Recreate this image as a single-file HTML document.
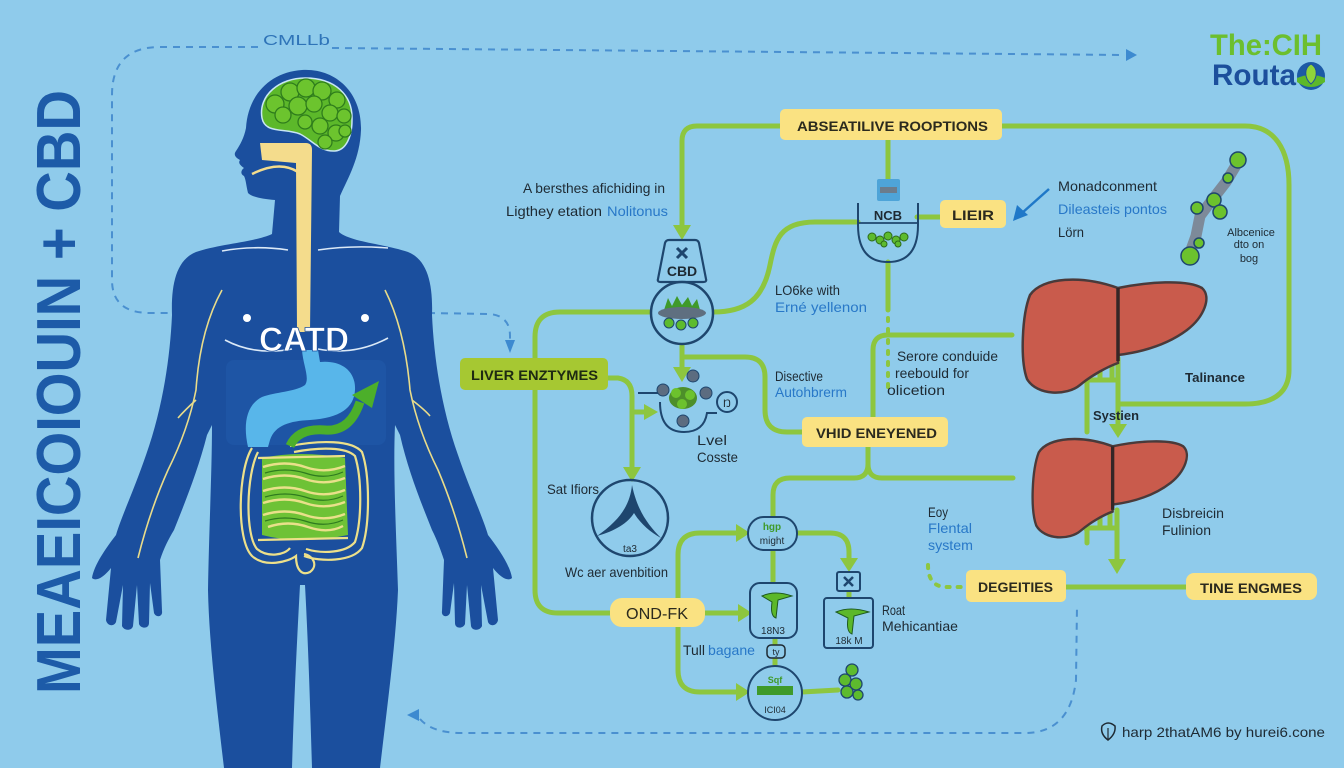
<!DOCTYPE html>
<html><head><meta charset="utf-8">
<style>
html,body{margin:0;padding:0;background:#8fcbeb;}
svg{display:block;}
text{font-family:"Liberation Sans",Arial,sans-serif;}
</style></head>
<body>
<svg width="1344" height="768" viewBox="0 0 1344 768" xmlns="http://www.w3.org/2000/svg">
<rect width="1344" height="768" fill="#8fcbeb"/>

<!-- Title -->
<text transform="translate(80,694) rotate(-90)" font-size="62" font-weight="bold" fill="#1d5ba8" textLength="604" lengthAdjust="spacingAndGlyphs">MEAEICOIOUIN + CBD</text>

<!-- dashed blue connectors -->
<g fill="none" stroke="#4a90d0" stroke-width="2" stroke-dasharray="7 6">
  <path d="M258 47 L160 47 Q112 47 112 95 L112 280 Q112 313 150 313 L168 313"/>
  <path d="M332 48 L1125 55"/>
  <path d="M428 313 L490 314 Q510 316 510 336 L510 342"/>
  <path d="M420 719 Q432 733 462 733 L1025 733 Q1070 733 1076 680 L1077 606"/>
</g>
<polygon points="1126,49 1126,61 1137,55" fill="#3d8ad0"/>
<polygon points="505,340 515,340 510,353" fill="#3d8ad0"/>
<polygon points="407,715 419,709 419,721" fill="#3d8ad0"/>
<text x="263" y="45" font-size="15" font-family="Liberation Serif, serif" fill="#2f74b8" textLength="67" lengthAdjust="spacingAndGlyphs">CMLLb</text>

<!-- Logo -->
<text x="1210" y="55" font-size="30" font-weight="bold" fill="#6cbf2e" textLength="112" lengthAdjust="spacingAndGlyphs">The:CIH</text>
<text x="1212" y="85" font-size="30" font-weight="bold" fill="#1c4f9c" textLength="84" lengthAdjust="spacingAndGlyphs">Routa</text>
<circle cx="1311" cy="76" r="14" fill="#1d5aa6"/>
<path d="M1297 78 Q1311 72 1325 78 L1325 82 Q1311 92 1297 82 Z" fill="#5cb82a"/>
<path d="M1311 64 C1318 68 1318 78 1311 84 C1304 78 1304 68 1311 64 Z" fill="#8fd43a" stroke="#1c4f9c" stroke-width="1"/>

<!-- BODY -->
<path fill="#1b4f9e" d="M302 70 C335 68 362 92 361 130 C360 158 348 178 340 196 L339 232 C350 242 385 244 408 252 C428 260 433 285 432 315 C434 360 442 410 458 455 C470 490 482 515 488 535 C498 548 510 565 512 578 C508 582 500 577 493 568 L498 620 C497 626 490 627 488 622 L481 585 L482 626 C480 631 472 631 471 626 L467 585 L465 624 C463 629 455 629 455 623 L454 583 L450 613 C448 618 441 617 442 611 L444 560 C440 548 437 540 432 530 C420 500 408 470 400 435 L395 425 C393 470 396 530 398 590 C396 640 388 700 380 768 L312 768 C310 700 308 640 305 585 L300 585 C297 640 294 700 292 768 L224 768 C216 700 209 640 208 590 C209 530 212 470 212 425 L207 435 C198 470 186 500 174 530 C168 540 164 548 160 560 L162 611 C163 617 156 618 154 613 L150 583 L149 623 C149 629 141 629 139 624 L137 585 L133 626 C132 631 124 631 122 626 L123 585 L116 622 C114 627 107 626 106 620 L111 568 C104 577 96 582 92 578 C94 565 106 548 116 535 C122 515 134 490 146 455 C162 410 170 360 172 315 C171 285 176 260 196 252 C219 244 255 242 272 234 L275 200 C262 199 252 197 248 193 C246 185 246 180 244 176 C240 174 241 170 244 168 C240 165 238 163 240 160 C236 158 233 155 236 151 C240 145 244 138 246 128 C248 95 270 72 302 70 Z"/>
<!-- torso lighter area -->
<rect x="226" y="360" width="160" height="85" rx="8" fill="#2461b2" opacity="0.35"/>

<!-- brain -->
<path d="M262 118 C258 95 280 78 305 78 C335 78 353 95 352 120 C352 137 346 150 335 151 C320 152 312 140 300 134 C285 128 265 134 262 118 Z" fill="#5cb82a" stroke="#c8e6f5" stroke-width="1.5"/>
<g fill="#6cc42e" stroke="#2f7d1c" stroke-width="1.3">
  <circle cx="275" cy="104" r="9"/><circle cx="290" cy="92" r="9"/><circle cx="306" cy="88" r="9"/>
  <circle cx="322" cy="91" r="9"/><circle cx="337" cy="100" r="8"/><circle cx="283" cy="115" r="8"/>
  <circle cx="298" cy="106" r="9"/><circle cx="314" cy="104" r="8"/><circle cx="330" cy="113" r="8"/>
  <circle cx="344" cy="116" r="7"/><circle cx="305" cy="122" r="7"/><circle cx="320" cy="126" r="8"/>
  <circle cx="336" cy="133" r="8"/><circle cx="325" cy="142" r="7"/><circle cx="345" cy="131" r="6"/>
</g>

<!-- esophagus -->
<path d="M260 143 L306 143 Q312 143 312 150 L310 332 L297 332 L296 163 L262 160 Z" fill="#f4dc8c"/>
<path d="M252 174 Q280 160 298 172" fill="none" stroke="#f4dc8c" stroke-width="2.5"/>

<!-- chest lines -->
<g fill="none" stroke="#dbe9f7" stroke-width="1.6">
  <path d="M222 251 Q255 245 288 250"/>
  <path d="M318 250 Q352 245 388 248"/>
  <path d="M225 340 Q255 356 292 349"/>
  <path d="M318 349 Q355 356 388 338"/>
</g>
<!-- arm nerves -->
<g fill="none" stroke="#e9dc8a" stroke-width="1.6">
  <path d="M222 290 Q200 330 196 390 Q188 430 168 470 Q150 510 138 558"/>
  <path d="M196 400 Q185 410 178 418"/>
  <path d="M385 290 Q405 330 410 390 Q418 430 438 470 Q455 510 467 558"/>
  <path d="M412 400 Q425 410 430 416"/>
</g>
<circle cx="247" cy="318" r="4" fill="#ffffff"/>
<circle cx="365" cy="318" r="4" fill="#ffffff"/>

<!-- stomach -->
<path d="M302 350 L318 350 L320 362 C340 360 356 370 355 390 C354 408 340 418 310 420 C290 421 275 425 270 440 L268 447 L248 447 C243 425 246 405 262 397 C275 392 295 392 305 385 C310 378 303 365 302 350 Z" fill="#58b6ea"/>
<text x="259" y="351" font-size="34" font-weight="bold" fill="#ffffff" stroke="#1b4f9e" stroke-width="0.8" textLength="90" lengthAdjust="spacingAndGlyphs">CATD</text>

<!-- intestines -->
<path d="M262 458 Q300 450 345 458 L348 535 Q300 545 262 535 Z" fill="#6ec236"/>
<g fill="none" stroke="#e9e08a" stroke-width="2.4">
  <path d="M263 467 Q285 460 305 467 Q325 474 345 466"/>
  <path d="M263 479 Q285 472 305 479 Q325 486 345 478"/>
  <path d="M263 491 Q285 484 305 491 Q325 498 345 490"/>
  <path d="M263 503 Q285 496 305 503 Q325 510 345 502"/>
  <path d="M263 515 Q285 508 305 515 Q325 522 345 514"/>
  <path d="M268 527 Q288 520 308 527 Q328 534 343 526"/>
</g>
<g fill="none" stroke="#2e7a1f" stroke-width="1.2">
  <path d="M265 473 Q285 467 305 473 Q325 480 343 472"/>
  <path d="M265 497 Q285 491 305 497 Q325 504 343 496"/>
  <path d="M265 521 Q285 515 305 521 Q325 528 343 520"/>
</g>
<g fill="none" stroke="#ede08a" stroke-width="2.2">
  <path d="M252 448 C238 470 236 540 252 556 C265 568 288 562 296 556 C296 570 302 576 310 572 C318 566 314 556 304 554"/>
  <path d="M258 452 C246 475 245 535 257 549 C268 558 285 555 290 548"/>
  <path d="M290 446 C320 440 352 440 362 452 C370 475 370 525 362 548 C352 562 320 562 304 556"/>
  <path d="M294 452 C320 447 346 447 355 456 C362 478 362 520 355 542 C346 553 322 554 306 549"/>
  <path d="M258 458 L345 456 M258 540 L348 538"/>
</g>
<!-- green arrow -->
<path d="M290 446 Q298 428 325 430 Q350 432 360 402" fill="none" stroke="#4caf2a" stroke-width="9"/>
<polygon points="352,395 379,381 372,408" fill="#4caf2a"/>

<!-- ===== FLOW CHART ===== -->
<g fill="none" stroke="#8dc63f" stroke-width="5" stroke-linecap="round" stroke-linejoin="round">
  <path d="M780 126 L697 126 Q682 126 682 141 L682 226"/>
  <path d="M1002 126 L1245 126 C1275 126 1289 150 1289 185 L1289 370 C1289 395 1270 404 1245 404 L1120 404"/>
  <path d="M888 140 L888 180"/>
  <path d="M917 217 L940 217"/>
  <path d="M858 222 L815 222 C780 222 775 240 770 265 C763 300 745 312 713 312"/>
  <path d="M650 312 L560 312 Q535 312 535 337 L535 590 Q535 613 558 613 L610 613"/>
  <path d="M608 378 L618 378 Q632 380 632 396 L632 468"/>
  <path d="M632 412 L645 412"/>
  <path d="M682 345 L682 368"/>
  <path d="M682 357 L745 357 Q765 357 765 377 L765 410 Q765 432 787 432 L802 432"/>
  <path d="M868 447 L868 464 Q868 478 854 478 L790 478 Q773 478 773 495 L773 516"/>
  <path d="M868 464 Q868 478 882 478 L1013 478"/>
  <path d="M873 418 L873 350 Q873 335 888 335 L1012 335"/>
  <path d="M888 262 L888 310"/>
  <path d="M678 598 L678 555 Q678 533 700 533 L737 533"/>
  <path d="M678 627 L678 670 Q678 692 700 692 L737 692"/>
  <path d="M705 613 L739 613"/>
  <path d="M797 533 L830 533 Q849 533 849 552 L849 559"/>
  <path d="M773 550 L773 583"/>
  <path d="M775 638 L775 666"/>
  <path d="M849 590 L849 598"/>
  <path d="M802 692 L838 690"/>
  <path d="M1066 587 L1186 587"/>
  <path d="M1075 362 Q1082 370 1087 380 L1087 432"/>
  <path d="M1100 358 L1100 380 M1112 358 L1112 380 M1087 380 L1118 380"/>
  <path d="M1118 358 L1118 425"/>
  <path d="M1070 515 Q1080 522 1087 530 L1087 543"/>
  <path d="M1100 510 L1100 528 M1110 510 L1110 528 M1087 528 L1117 528"/>
  <path d="M1117 510 L1117 560"/>
</g>
<g fill="none" stroke="#8dc63f" stroke-width="4" stroke-dasharray="3 8" stroke-linecap="round">
  <path d="M888 318 L888 395"/>
  <path d="M928 565 Q928 586 945 587 L962 587"/>
</g>
<!-- arrowheads -->
<g fill="#8dc63f">
  <polygon points="673,225 691,225 682,240"/>
  <polygon points="673,367 691,367 682,382"/>
  <polygon points="644,404 644,420 658,412"/>
  <polygon points="623,467 641,467 632,482"/>
  <polygon points="736,524 736,542 750,533"/>
  <polygon points="738,604 738,622 752,613"/>
  <polygon points="736,683 736,701 750,692"/>
  <polygon points="840,558 858,558 849,572"/>
  <polygon points="1109,424 1127,424 1118,438"/>
  <polygon points="1108,559 1126,559 1117,574"/>
</g>

<!-- Yellow / green boxes -->
<rect x="780" y="109" width="222" height="31" rx="5" fill="#fae282"/>
<text x="797" y="131" font-size="14" font-weight="bold" fill="#2b2a1e" textLength="191" lengthAdjust="spacingAndGlyphs">ABSEATILIVE ROOPTIONS</text>
<rect x="940" y="200" width="66" height="28" rx="5" fill="#fae282"/>
<text x="952" y="220" font-size="14" font-weight="bold" fill="#2b2a1e" textLength="42" lengthAdjust="spacingAndGlyphs">LIEIR</text>
<rect x="460" y="358" width="148" height="32" rx="5" fill="#a6c832"/>
<text x="471" y="380" font-size="14" font-weight="bold" fill="#1e2a12" textLength="127" lengthAdjust="spacingAndGlyphs">LIVER ENZTYMES</text>
<rect x="802" y="417" width="146" height="30" rx="5" fill="#fae282"/>
<text x="816" y="438" font-size="14" font-weight="bold" fill="#2b2a1e" textLength="121" lengthAdjust="spacingAndGlyphs">VHID ENEYENED</text>
<rect x="966" y="570" width="100" height="32" rx="5" fill="#fae282"/>
<text x="978" y="592" font-size="14" font-weight="bold" fill="#2b2a1e" textLength="75" lengthAdjust="spacingAndGlyphs">DEGEITIES</text>
<rect x="1186" y="573" width="131" height="27" rx="8" fill="#fae282"/>
<text x="1200" y="593" font-size="14" font-weight="bold" fill="#2b2a1e" textLength="102" lengthAdjust="spacingAndGlyphs">TINE ENGMES</text>
<rect x="610" y="598" width="95" height="29" rx="12" fill="#fae282"/>
<text x="626" y="619" font-size="16" fill="#2b2a1e" textLength="62" lengthAdjust="spacingAndGlyphs">OND-FK</text>

<!-- Icons -->
<!-- NCB -->
<rect x="877" y="179" width="23" height="22" rx="2" fill="#4ea4d8"/>
<rect x="880" y="187" width="17" height="6" fill="#6b7c8c"/>
<path d="M858 203 L858 225 Q858 262 888 262 Q918 262 918 225 L918 203" fill="none" stroke="#1e466e" stroke-width="2"/>
<line x1="858" y1="223" x2="918" y2="223" stroke="#1e466e" stroke-width="1.8"/>
<text x="888" y="220" font-size="13" font-weight="bold" fill="#1e2a33" text-anchor="middle">NCB</text>
<g fill="#5dbb2e" stroke="#2d6a1a" stroke-width="1">
  <circle cx="872" cy="237" r="4"/><circle cx="880" cy="240" r="4"/><circle cx="888" cy="236" r="4"/>
  <circle cx="896" cy="240" r="4"/><circle cx="904" cy="237" r="4"/><circle cx="884" cy="244" r="3"/><circle cx="898" cy="244" r="3"/>
</g>

<!-- CBD cup -->
<path d="M669 240 L695 240 Q698 240 699 243 L706 279 Q707 282 703 282 L661 282 Q657 282 658 279 L665 243 Q666 240 669 240 Z" fill="#8fcbeb" stroke="#1e466e" stroke-width="2.2"/>
<path d="M677 248 L687 258 M687 248 L677 258" stroke="#1e466e" stroke-width="3"/>
<text x="682" y="276" font-size="14" font-weight="bold" fill="#1e2a33" text-anchor="middle">CBD</text>
<circle cx="682" cy="313" r="31" fill="#8fcbeb" stroke="#1e466e" stroke-width="2.5"/>
<path d="M664 310 L668 298 L672 306 L677 296 L682 305 L688 297 L692 306 L697 299 L700 310 Z" fill="#3f9a2a"/>
<ellipse cx="682" cy="313" rx="24" ry="6" fill="#5f6f80"/>
<g fill="#5dbb2e" stroke="#1e466e" stroke-width="1">
  <circle cx="669" cy="323" r="5"/><circle cx="681" cy="325" r="5"/><circle cx="693" cy="323" r="5"/>
</g>

<!-- small bowl molecule -->
<line x1="638" y1="393" x2="660" y2="393" stroke="#1e466e" stroke-width="2"/>
<path d="M660 402 Q660 432 684 432 Q704 432 707 413 L717 413" fill="none" stroke="#1e466e" stroke-width="2"/>
<circle cx="727" cy="402" r="10" fill="none" stroke="#1e466e" stroke-width="2"/>
<text x="727" y="407" font-size="11" fill="#1e2a33" text-anchor="middle">Ŋ</text>
<g fill="#4d8f2a"><ellipse cx="683" cy="398" rx="14" ry="11"/></g>
<g fill="#6cc22d"><circle cx="676" cy="393" r="5"/><circle cx="690" cy="395" r="5"/><circle cx="682" cy="404" r="5"/></g>
<g fill="#5c6c80" stroke="#1e466e" stroke-width="1">
  <circle cx="663" cy="390" r="6"/><circle cx="693" cy="376" r="6"/><circle cx="706" cy="393" r="6"/><circle cx="683" cy="421" r="6"/>
</g>

<!-- Sat circle -->
<circle cx="630" cy="518" r="38" fill="none" stroke="#1e466e" stroke-width="2.5"/>
<path d="M632 485 C630 505 620 520 597 536 C615 531 628 523 634 513 C640 523 650 532 661 538 C648 525 637 510 632 485 Z" fill="#1e466e"/>
<text x="630" y="552" font-size="10" fill="#1e2a33" text-anchor="middle">ta3</text>

<!-- pill -->
<rect x="748" y="517" width="49" height="33" rx="16" fill="#8fcbeb" stroke="#1e466e" stroke-width="2"/>
<text x="772" y="530" font-size="10" fill="#3f9a2a" text-anchor="middle" font-weight="bold">hgp</text>
<text x="772" y="544" font-size="10" fill="#1e2a33" text-anchor="middle">might</text>
<!-- tall box -->
<rect x="750" y="583" width="47" height="55" rx="10" fill="#8fcbeb" stroke="#1e466e" stroke-width="2"/>
<path d="M762 596 Q775 590 792 596 L778 600 L776 618 Q770 616 772 602 Z" fill="#5cb82a" stroke="#1e5a20" stroke-width="1"/>
<text x="773" y="634" font-size="10" fill="#1e2a33" text-anchor="middle">18N3</text>
<rect x="767" y="645" width="18" height="13" rx="4" fill="#8fcbeb" stroke="#1e2a33" stroke-width="1.5"/>
<text x="776" y="655" font-size="9" fill="#1e2a33" text-anchor="middle">ty</text>
<!-- X box & big box -->
<rect x="837" y="572" width="23" height="19" rx="2" fill="#8fcbeb" stroke="#1e466e" stroke-width="2"/>
<path d="M844 577 L853 586 M853 577 L844 586" stroke="#1e466e" stroke-width="2.5"/>
<rect x="824" y="598" width="49" height="50" rx="3" fill="#8fcbeb" stroke="#1e466e" stroke-width="2"/>
<path d="M836 612 Q850 606 869 612 L854 616 L852 634 Q846 632 848 618 Z" fill="#5cb82a" stroke="#1e5a20" stroke-width="1"/>
<text x="849" y="644" font-size="10" fill="#1e2a33" text-anchor="middle">18k M</text>
<!-- bottom circle -->
<circle cx="775" cy="693" r="27" fill="#8fcbeb" stroke="#1e466e" stroke-width="2"/>
<rect x="757" y="686" width="36" height="9" fill="#3f9a2a"/>
<text x="775" y="683" font-size="9" fill="#3f9a2a" text-anchor="middle" font-weight="bold">Sqf</text>
<text x="775" y="713" font-size="9" fill="#1e2a33" text-anchor="middle">ICI04</text>
<!-- cluster -->
<g fill="#5dbb2e" stroke="#1e466e" stroke-width="1.3">
  <circle cx="852" cy="670" r="6"/><circle cx="845" cy="680" r="6"/><circle cx="856" cy="684" r="6"/>
  <circle cx="847" cy="692" r="6"/><circle cx="858" cy="695" r="5"/>
</g>

<!-- molecule chain -->
<path d="M1238 162 L1226 182 L1212 200 L1200 216 L1196 236 L1188 258" fill="none" stroke="#7d8a99" stroke-width="11" stroke-linecap="round"/>
<g fill="#6cc22d" stroke="#1e466e" stroke-width="1.5">
  <circle cx="1238" cy="160" r="8"/><circle cx="1228" cy="178" r="5"/><circle cx="1214" cy="200" r="7"/>
  <circle cx="1197" cy="208" r="6"/><circle cx="1220" cy="212" r="7"/><circle cx="1190" cy="256" r="9"/>
  <circle cx="1199" cy="243" r="5"/>
</g>
<text x="1251" y="236" font-size="11" fill="#1e2a33" text-anchor="middle">Albcenice</text>
<text x="1249" y="248" font-size="11" fill="#1e2a33" text-anchor="middle">dto on</text>
<text x="1249" y="262" font-size="11" fill="#1e2a33" text-anchor="middle">bog</text>

<!-- blue arrow -->
<line x1="1049" y1="189" x2="1022" y2="213" stroke="#1f78c8" stroke-width="2.5"/>
<polygon points="1013,221 1017,205 1028,215" fill="#1f78c8"/>

<!-- livers -->
<g transform="translate(1022,275)">
  <path d="M96 13 C125 7 165 4 180 13 C190 22 182 42 165 55 C145 70 120 77 96 80 L96 88 C85 92 70 100 58 110 C45 121 15 121 5 104 C-2 85 0 40 8 20 C20 2 60 0 96 13 Z" fill="#c95b4c" stroke="#4a3a3a" stroke-width="2.5"/>
  <line x1="96" y1="13" x2="96" y2="86" stroke="#352626" stroke-width="3.5"/>
</g>
<g transform="translate(1032,435) scale(0.84,0.87)">
  <path d="M96 13 C125 7 165 4 180 13 C190 22 182 42 165 55 C145 70 120 77 96 80 L96 88 C85 92 70 100 58 110 C45 121 15 121 5 104 C-2 85 0 40 8 20 C20 2 60 0 96 13 Z" fill="#c95b4c" stroke="#4a3a3a" stroke-width="2.8"/>
  <line x1="96" y1="13" x2="96" y2="86" stroke="#352626" stroke-width="4"/>
</g>

<!-- Free text -->
<g font-size="14" fill="#1e2a33">
  <text x="523" y="193" textLength="142" lengthAdjust="spacingAndGlyphs">A bersthes afichiding in</text>
  <text x="506" y="216" textLength="96" lengthAdjust="spacingAndGlyphs">Ligthey etation</text>
  <text x="607" y="216" fill="#2878c8" textLength="61" lengthAdjust="spacingAndGlyphs">Nolitonus</text>
  <text x="1058" y="191" textLength="99" lengthAdjust="spacingAndGlyphs">Monadconment</text>
  <text x="1058" y="214" fill="#2878c8" textLength="109" lengthAdjust="spacingAndGlyphs">Dileasteis pontos</text>
  <text x="1058" y="237" textLength="26" lengthAdjust="spacingAndGlyphs">Lörn</text>
  <text x="775" y="295" textLength="65" lengthAdjust="spacingAndGlyphs">LO6ke with</text>
  <text x="775" y="312" fill="#2878c8" textLength="92" lengthAdjust="spacingAndGlyphs">Erné yellenon</text>
  <text x="775" y="381" textLength="48" lengthAdjust="spacingAndGlyphs">Disective</text>
  <text x="775" y="397" fill="#2878c8" textLength="72" lengthAdjust="spacingAndGlyphs">Autohbrerm</text>
  <text x="897" y="361" textLength="101" lengthAdjust="spacingAndGlyphs">Serore conduide</text>
  <text x="895" y="378" textLength="74" lengthAdjust="spacingAndGlyphs">reebould for</text>
  <text x="887" y="395" textLength="58" lengthAdjust="spacingAndGlyphs">olicetion</text>
  <text x="697" y="445" textLength="30" lengthAdjust="spacingAndGlyphs">Lvel</text>
  <text x="697" y="462" textLength="41" lengthAdjust="spacingAndGlyphs">Cosste</text>
  <text x="1185" y="382" font-weight="bold" font-size="13" textLength="60" lengthAdjust="spacingAndGlyphs">Talinance</text>
  <text x="1093" y="420" font-weight="bold" font-size="13" textLength="46" lengthAdjust="spacingAndGlyphs">Systien</text>
  <text x="547" y="494" textLength="52" lengthAdjust="spacingAndGlyphs">Sat Ifiors</text>
  <text x="565" y="577" textLength="103" lengthAdjust="spacingAndGlyphs">Wc aer avenbition</text>
  <text x="928" y="517" textLength="20" lengthAdjust="spacingAndGlyphs">Eoy</text>
  <text x="928" y="533" fill="#2878c8" textLength="44" lengthAdjust="spacingAndGlyphs">Flental</text>
  <text x="928" y="550" fill="#2878c8" textLength="45" lengthAdjust="spacingAndGlyphs">system</text>
  <text x="1162" y="518" textLength="62" lengthAdjust="spacingAndGlyphs">Disbreicin</text>
  <text x="1162" y="535" textLength="49" lengthAdjust="spacingAndGlyphs">Fulinion</text>
  <text x="882" y="615" textLength="23" lengthAdjust="spacingAndGlyphs">Roat</text>
  <text x="882" y="631" textLength="76" lengthAdjust="spacingAndGlyphs">Mehicantiae</text>
  <text x="683" y="655" textLength="22" lengthAdjust="spacingAndGlyphs">Tull</text>
  <text x="708" y="655" fill="#2878c8" textLength="47" lengthAdjust="spacingAndGlyphs">bagane</text>
  <text x="1122" y="737" textLength="203" lengthAdjust="spacingAndGlyphs">harp 2thatAM6 by hurei6.cone</text>
</g>
<path d="M1102 726 Q1108 720 1115 726 Q1116 734 1108 740 Q1100 734 1102 726 Z" fill="none" stroke="#1e2a33" stroke-width="1.5"/>
<line x1="1108" y1="728" x2="1108" y2="740" stroke="#1e2a33" stroke-width="1.2"/>
</svg>
</body></html>
